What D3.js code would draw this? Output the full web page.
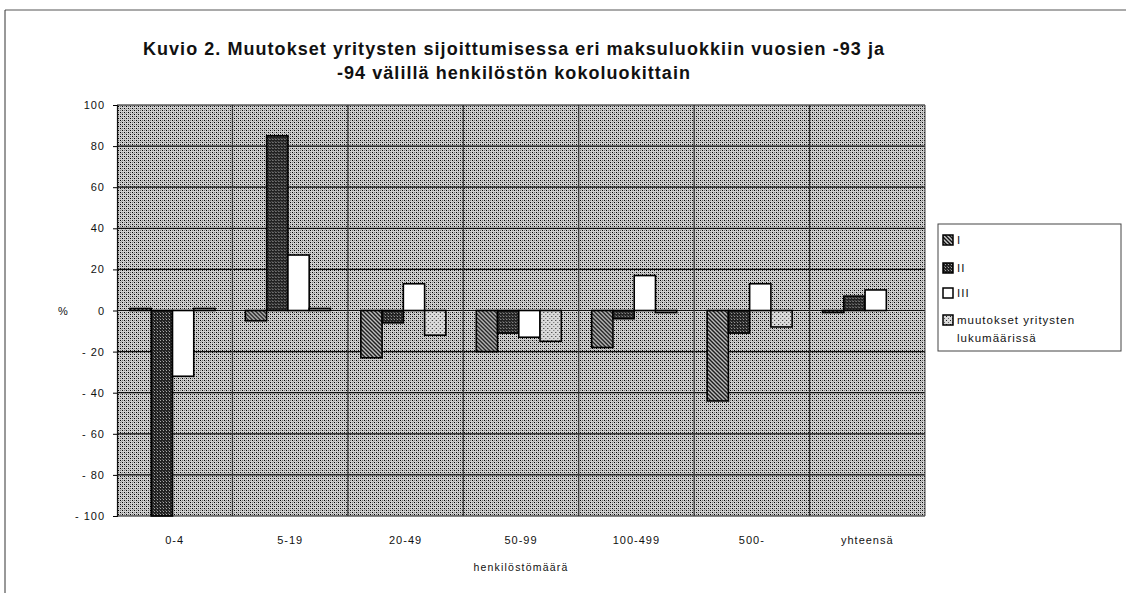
<!DOCTYPE html>
<html>
<head>
<meta charset="utf-8">
<script src="https://cdn.jsdelivr.net/npm/d3@7"></script>
<style>
  body { margin: 0; background: #fff; }
  text { font-family: "Liberation Sans", Arial, sans-serif; fill: #111; }
</style>
</head>
<body>
<script>
var categories = ["0-4", "5-19", "20-49", "50-99", "100-499", "500-", "yhteensä"];
var seriesNames = ["I", "II", "III", "muutokset yritysten lukumäärissä"];
var seriesI = [1, -5, -23, -20, -18, -44, -1];
var seriesII = [-100, 85, -6, -11, -4, -11, 7];
var seriesIII = [-32, 27, 13, -13, 17, 13, 10];
var seriesIV = [1, 1, -12, -15, -1, -8, 0];
var yTicks = [100, 80, 60, 40, 20, 0, -20, -40, -60, -80, -100];
var titleLines = ["Kuvio 2. Muutokset yritysten sijoittumisessa eri maksuluokkiin vuosien -93 ja",
                  "-94 välillä henkilöstön kokoluokittain"];

var allSeries = [seriesI, seriesII, seriesIII, seriesIV];

var W = 1126, H = 593;
// plot area edges (note: "top" is reserved on window, so use plot* names)
var plotL = 117, plotR = 925, plotT = 105, plotB = 516;

var svg = d3.select("body").append("svg")
  .attr("width", W)
  .attr("height", H);

var defs = svg.append("defs");

// halftone background of the plot area
var bg = defs.append("pattern").attr("id", "bgdots")
  .attr("patternUnits", "userSpaceOnUse").attr("width", 4).attr("height", 4);
bg.append("rect").attr("width", 4).attr("height", 4).attr("fill", "#d0d0d0");
bg.append("rect").attr("x", 0).attr("y", 0).attr("width", 1).attr("height", 1).attr("fill", "#000");
bg.append("rect").attr("x", 2).attr("y", 2).attr("width", 1).attr("height", 1).attr("fill", "#000");
bg.append("rect").attr("x", 2).attr("y", 0).attr("width", 1).attr("height", 1).attr("fill", "#777");
bg.append("rect").attr("x", 0).attr("y", 2).attr("width", 1).attr("height", 1).attr("fill", "#777");
bg.append("rect").attr("x", 1).attr("y", 1).attr("width", 1).attr("height", 1).attr("fill", "#aaa");

// series I : diagonal hatch
var p1 = defs.append("pattern").attr("id", "hatch")
  .attr("patternUnits", "userSpaceOnUse").attr("width", 4).attr("height", 4);
p1.append("rect").attr("width", 4).attr("height", 4).attr("fill", "#c8c8c8");
p1.append("path").attr("d", "M-1,-1 L5,5 M-1,3 L1,5 M3,-1 L5,1")
  .attr("stroke", "#111").attr("stroke-width", 1.4);

// series II : dark cross pattern
var p2 = defs.append("pattern").attr("id", "cross")
  .attr("patternUnits", "userSpaceOnUse").attr("width", 3).attr("height", 3);
p2.append("rect").attr("width", 3).attr("height", 3).attr("fill", "#222");
p2.append("rect").attr("x", 1).attr("y", 1).attr("width", 1).attr("height", 1).attr("fill", "#aaa");
p2.append("rect").attr("x", 0).attr("y", 0).attr("width", 1).attr("height", 1).attr("fill", "#666");

// series IV : lighter dots
var p4 = defs.append("pattern").attr("id", "dots")
  .attr("patternUnits", "userSpaceOnUse").attr("width", 4).attr("height", 4);
p4.append("rect").attr("width", 4).attr("height", 4).attr("fill", "#dadada");
p4.append("rect").attr("x", 0).attr("y", 0).attr("width", 1).attr("height", 1).attr("fill", "#222");
p4.append("rect").attr("x", 2).attr("y", 2).attr("width", 1).attr("height", 1).attr("fill", "#666");

var fills = ["url(#hatch)", "url(#cross)", "#fff", "url(#dots)"];

// outer frame of the scanned page
svg.append("line").attr("x1", 5).attr("y1", 10).attr("x2", W).attr("y2", 10)
  .attr("stroke", "#555").attr("stroke-width", 1);
svg.append("line").attr("x1", 5).attr("y1", 10).attr("x2", 5).attr("y2", H)
  .attr("stroke", "#333").attr("stroke-width", 1);

// title
svg.selectAll(".title")
  .data(titleLines)
  .enter()
  .append("text")
  .attr("class", "title")
  .attr("x", 514)
  .attr("y", function (d, i) { return 55 + i * 24; })
  .attr("text-anchor", "middle")
  .style("font-size", "18px")
  .style("font-weight", "bold")
  .style("letter-spacing", "1.05px")
  .text(function (d) { return d; });

var x0 = d3.scaleBand().domain(categories).range([plotL, plotR]);
var x1 = d3.scaleBand().domain(d3.range(4)).range([13, 98]);
var y = d3.scaleLinear().domain([-100, 100]).range([plotB, plotT]);

// plot background
svg.append("rect")
  .attr("x", plotL).attr("y", plotT)
  .attr("width", plotR - plotL).attr("height", plotB - plotT)
  .attr("fill", "url(#bgdots)");

// horizontal gridlines
svg.selectAll(".hgrid")
  .data(yTicks)
  .enter()
  .append("line")
  .attr("x1", plotL).attr("x2", plotR)
  .attr("y1", function (d) { return y(d); })
  .attr("y2", function (d) { return y(d); })
  .attr("stroke", "#111").attr("stroke-width", 1.2);

// vertical gridlines at category borders
svg.selectAll(".vgrid")
  .data(categories.slice(1))
  .enter()
  .append("line")
  .attr("x1", function (d) { return x0(d); })
  .attr("x2", function (d) { return x0(d); })
  .attr("y1", plotT).attr("y2", plotB)
  .attr("stroke", "#333").attr("stroke-width", 1.2);

svg.append("line").attr("x1", plotR).attr("x2", plotR).attr("y1", plotT).attr("y2", plotB)
  .attr("stroke", "#444").attr("stroke-width", 1);

// bars
var groups = svg.selectAll(".grp")
  .data(categories)
  .enter()
  .append("g")
  .attr("transform", function (d) { return "translate(" + x0(d) + ",0)"; });

groups.selectAll("rect")
  .data(function (d, ci) {
    return allSeries.map(function (s, si) { return { s: si, v: s[ci] }; });
  })
  .enter()
  .append("rect")
  .attr("x", function (d) { return x1(d.s); })
  .attr("width", x1.bandwidth())
  .attr("y", function (d) { return y(Math.max(0, d.v)); })
  .attr("height", function (d) { return Math.abs(y(d.v) - y(0)); })
  .attr("fill", function (d) { return fills[d.s]; })
  .attr("stroke", "#000")
  .attr("stroke-width", 1.6);

// y axis
var yAxis = d3.axisLeft(y).tickValues(yTicks).tickSize(4).tickPadding(8);
var ya = svg.append("g")
  .attr("transform", "translate(" + plotL + ",0)")
  .call(yAxis);
ya.select(".domain").attr("stroke", "#111").attr("stroke-width", 1.2);
ya.selectAll("text")
  .style("font-size", "11px")
  .style("letter-spacing", "1px")
  .style("font-family", "'Liberation Sans', Arial, sans-serif")
  .text(function (d) { return d < 0 ? "- " + Math.abs(d) : d; });

svg.append("text")
  .attr("x", 63).attr("y", 315)
  .attr("text-anchor", "middle")
  .style("font-size", "11px")
  .text("%");

// category labels
svg.selectAll(".xlab")
  .data(categories)
  .enter()
  .append("text")
  .attr("x", function (d) { return x0(d) + x0.bandwidth() / 2; })
  .attr("y", 544)
  .attr("text-anchor", "middle")
  .style("font-size", "11px")
  .style("letter-spacing", "1px")
  .text(function (d) { return d; });

svg.append("text")
  .attr("x", 521).attr("y", 571)
  .attr("text-anchor", "middle")
  .style("font-size", "10.5px")
  .style("letter-spacing", "1.2px")
  .text("henkilöstömäärä");

// legend
var lg = svg.append("g").attr("transform", "translate(938,224)");
lg.append("rect")
  .attr("width", 183).attr("height", 127)
  .attr("fill", "#fff").attr("stroke", "#444").attr("stroke-width", 1);

var legendRows = [16, 44, 69, 96];
lg.selectAll(".sw")
  .data(seriesNames)
  .enter()
  .append("rect")
  .attr("x", 5)
  .attr("y", function (d, i) { return legendRows[i] - 5; })
  .attr("width", 10).attr("height", 10)
  .attr("fill", function (d, i) { return fills[i]; })
  .attr("stroke", "#000").attr("stroke-width", 1.5);

lg.selectAll(".lt")
  .data(seriesNames)
  .enter()
  .append("text")
  .attr("x", 19)
  .attr("y", function (d, i) { return legendRows[i] + 4; })
  .style("font-size", "11.5px")
  .style("letter-spacing", "1px")
  .each(function (d) {
    var t = d3.select(this);
    if (d.length > 12) {
      t.append("tspan").attr("x", 19).text("muutokset  yritysten");
      t.append("tspan").attr("x", 19).attr("dy", 18).text("lukumäärissä");
    } else {
      t.text(d);
    }
  });
</script>
</body>
</html>
